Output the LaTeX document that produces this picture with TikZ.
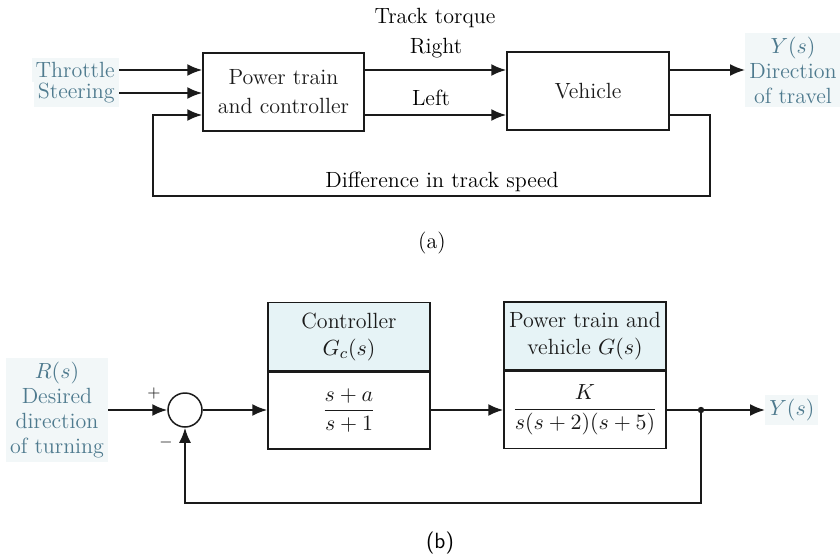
\documentclass[tikz,border=0pt]{standalone}
\usepackage{amsmath}
\usetikzlibrary{arrows.meta,positioning,calc}
\definecolor{ink}{HTML}{1A1A1A}
\definecolor{slate}{HTML}{4E7A8E}
\definecolor{haze}{HTML}{E6F3F6}
\definecolor{paper}{HTML}{F2F7F8}
\tikzset{
 block/.style={draw=ink,line width=.75pt,minimum width=80.5pt,minimum height=39pt,align=center,text=ink,inner sep=1pt},
 headcell/.style={block,fill=haze,minimum width=81pt,minimum height=34pt},
 bodycell/.style={block,fill=white,minimum width=81pt,minimum height=38.5pt},
 sumnode/.style={circle,draw=ink,line width=.75pt,minimum size=17pt,inner sep=0pt},
 sig/.style={-{Latex[length=7.5pt,width=6pt]},draw=ink,line width=1pt},
 wire/.style={draw=ink,line width=1pt},
 tag/.style={text=slate,align=center,fill=paper,inner sep=2pt},
 sign/.style={font=\footnotesize,text=ink,inner sep=0pt}
}

\begin{document}
\begin{tikzpicture}[x=0.5pt,y=-0.5pt,font=\fontsize{11}{12.5}\selectfont]
  \useasboundingbox (0,0) rectangle (840,556);
  \coordinate (rowR) at (0,70);
  \coordinate (rowL) at (0,115);
  \coordinate (rowB) at (0,410);
  \coordinate (fbbot) at (0,503);

  % (a) steering by track torque
  \node[block] (ptrain) at (283.5,92) {Power train\\[2pt]and controller};
  \node[block,minimum width=81pt] (vehicle) at (588,91) {Vehicle};
  \node[tag,anchor=east] (throttle) at (119,70) {Throttle};
  \node[tag,anchor=east] (steering) at (119,93) {Steering};
  \node[tag] (ytravel) at (793,70) {$Y(s)$\\Direction\\of travel};
  \node (torque) at (435,18) {Track torque};
  \node (right) at (436,48) {Right};
  \node (left) at (431,98) {Left};
  \node (diff) at (442,182) {Difference in track speed};
  \node (capa) at (432,243) {(a)};

  \draw[sig] (throttle.east) -- (ptrain.west |- throttle);
  \draw[sig] (steering.east) -- (ptrain.west |- steering);
  \draw[sig] (ptrain.east |- rowR) -- (vehicle.west |- rowR);
  \draw[sig] (ptrain.east |- rowL) -- (vehicle.west |- rowL);
  \draw[sig] (vehicle.east |- rowR) -- (ytravel.west |- rowR);
  \coordinate (fbturn) at (710,196);
  \coordinate (fbleft) at (153,196);
  \draw[sig] (vehicle.east |- rowL) -| (fbturn) -- (fbleft) |- (ptrain.west |- rowL);

  % (b) closed loop with controller
  \node[tag] (rturn) at (57,410) {$R(s)$\\Desired\\direction\\of turning};
  \node[sumnode] (sum) at (185,410) {};
  \node[sign] (plus) at (154,393) {$+$};
  \node[sign] (minus) at (166,442) {$-$};
  \node[bodycell] (ctrlbody) at (349,410.5) {$\dfrac{s+a}{s+1}$};
  \node[headcell,above=0pt of ctrlbody] (ctrlhead) {Controller\\[1pt]$G_c(s)$};
  \node[bodycell] (plantbody) at (585,410) {$\dfrac{K}{s(s+2)(s+5)}$};
  \node[headcell,above=0pt of plantbody] (planthead) {Power train and\\[1pt]vehicle $G(s)$};
  \coordinate (tap) at (701,410);
  \node[tag,anchor=west] (yout) at (765,410) {$Y(s)$};
  \node[font=\sffamily\fontsize{11}{12.5}\selectfont] (capb) at (440,543) {(b)};

  \draw[sig] (rturn.east |- rowB) -- (sum.west);
  \draw[sig] (sum.east) -- (ctrlbody.west |- rowB);
  \draw[sig] (ctrlbody.east |- rowB) -- (plantbody.west |- rowB);
  \draw[wire] (plantbody.east |- rowB) -- (tap);
  \draw[sig] (tap) -- (yout.west);
  \fill[ink] (tap) circle (1.6pt);
  \draw[sig] (tap) -- (tap |- fbbot) -| (sum.south);
\end{tikzpicture}
\end{document}
